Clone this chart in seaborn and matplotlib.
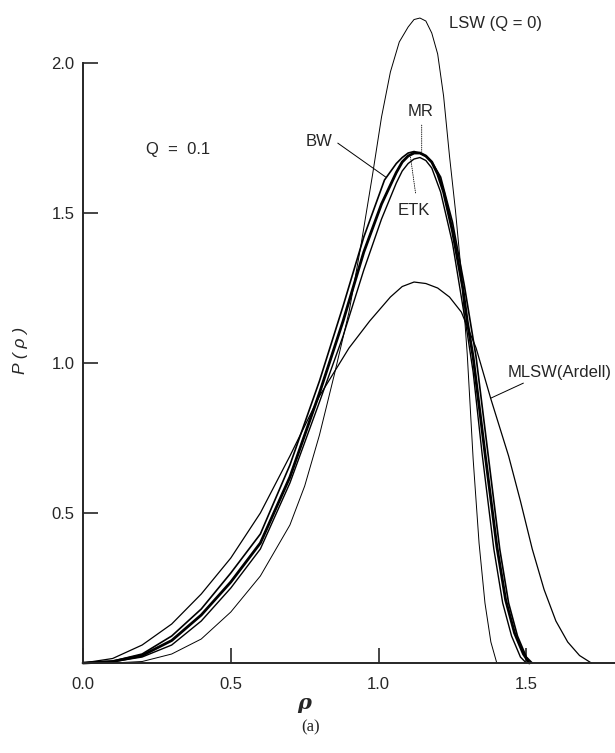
import matplotlib
matplotlib.use("Agg")
import matplotlib.pyplot as plt
import seaborn as sns
import pandas as pd

# ---- data ----
lsw_x = [0.0, 0.1, 0.2, 0.3, 0.4, 0.5, 0.6, 0.7, 0.75, 0.8, 0.85, 0.9, 0.94, 0.98, 1.01, 1.04,
         1.07, 1.10, 1.12, 1.14, 1.16, 1.18, 1.20, 1.22, 1.24, 1.26, 1.28, 1.30, 1.32, 1.34,
         1.36, 1.38, 1.40]
lsw_y = [0.0, 0.0, 0.005, 0.03, 0.08, 0.17, 0.29, 0.46, 0.59, 0.76, 0.96, 1.17, 1.39, 1.63, 1.82, 1.97,
         2.07, 2.12, 2.145, 2.15, 2.14, 2.10, 2.03, 1.89, 1.69, 1.51, 1.30, 1.03, 0.68, 0.40,
         0.20, 0.07, 0.0]

mr_x = [0.0, 0.1, 0.2, 0.3, 0.4, 0.5, 0.6, 0.7, 0.8, 0.88, 0.95, 1.01, 1.06, 1.08, 1.10, 1.12,
        1.14, 1.16, 1.18, 1.20, 1.22, 1.25, 1.285, 1.30, 1.32, 1.36, 1.40, 1.43, 1.46, 1.49, 1.51]
mr_y = [0.0, 0.005, 0.025, 0.075, 0.16, 0.27, 0.40, 0.62, 0.90, 1.14, 1.37, 1.53, 1.635, 1.67, 1.69, 1.70,
        1.70, 1.69, 1.67, 1.63, 1.57, 1.44, 1.25, 1.14, 1.02, 0.70, 0.39, 0.21, 0.10, 0.03, 0.0]

bw_x = [0.0, 0.1, 0.2, 0.3, 0.4, 0.5, 0.6, 0.7, 0.8, 0.88, 0.95, 1.02, 1.06, 1.08, 1.10, 1.12,
        1.14, 1.16, 1.18, 1.21, 1.25, 1.29, 1.31, 1.33, 1.37, 1.41, 1.44, 1.47, 1.50, 1.52]
bw_y = [0.0, 0.006, 0.03, 0.09, 0.18, 0.30, 0.43, 0.66, 0.94, 1.19, 1.42, 1.61, 1.665, 1.685, 1.70, 1.705,
        1.70, 1.69, 1.67, 1.62, 1.47, 1.26, 1.14, 1.02, 0.70, 0.38, 0.20, 0.09, 0.02, 0.0]

etk_x = [0.0, 0.1, 0.2, 0.3, 0.4, 0.5, 0.6, 0.7, 0.8, 0.88, 0.95, 1.01, 1.06, 1.08, 1.10, 1.12,
         1.14, 1.16, 1.18, 1.21, 1.25, 1.28, 1.30, 1.32, 1.35, 1.39, 1.42, 1.45, 1.48, 1.50]
etk_y = [0.0, 0.004, 0.02, 0.06, 0.14, 0.25, 0.38, 0.60, 0.87, 1.09, 1.31, 1.48, 1.60, 1.64, 1.665, 1.68,
         1.685, 1.675, 1.65, 1.57, 1.40, 1.22, 1.10, 0.97, 0.70, 0.38, 0.20, 0.09, 0.02, 0.0]

mlsw_x = [0.0, 0.1, 0.2, 0.3, 0.4, 0.5, 0.6, 0.7, 0.8, 0.9, 0.97, 1.04, 1.08, 1.12, 1.16, 1.20,
          1.24, 1.28, 1.33, 1.38, 1.44, 1.48, 1.52, 1.56, 1.60, 1.64, 1.68, 1.72]
mlsw_y = [0.0, 0.015, 0.06, 0.13, 0.23, 0.35, 0.50, 0.69, 0.89, 1.05, 1.14, 1.22, 1.255, 1.27, 1.265, 1.25,
          1.22, 1.17, 1.05, 0.88, 0.69, 0.54, 0.38, 0.245, 0.14, 0.07, 0.025, 0.0]

x_ticks = [0.0, 0.5, 1.0, 1.5]
x_tick_labels = ["0.0", "0.5", "1.0", "1.5"]
y_ticks = [0.5, 1.0, 1.5, 2.0]
y_tick_labels = ["0.5", "1.0", "1.5", "2.0"]

# ---- plotting ----
sns.set_style("ticks")
plt.rcParams["font.family"] = ["Liberation Sans", "DejaVu Sans"]

fig = plt.figure(figsize=(6.15, 7.53), dpi=100)
ax = fig.add_axes([0.135, 0.1195, 0.865, 0.7968])

curves = [
    (lsw_x, lsw_y, 0.7),
    (mlsw_x, mlsw_y, 0.9),
    (etk_x, etk_y, 1.0),
    (bw_x, bw_y, 1.2),
    (mr_x, mr_y, 2.0),
]
for xs, ys, lw in curves:
    df = pd.DataFrame({"rho": xs, "P": ys})
    sns.lineplot(data=df, x="rho", y="P", ax=ax, color="black", lw=lw,
                 estimator=None, sort=False)
for ln in ax.lines:
    ln.set_clip_on(False)
    ln.set_solid_joinstyle("round")

ax.set_xlim(0, 1.8)
ax.set_ylim(0, 2.0)
ax.spines["top"].set_visible(False)
ax.spines["right"].set_visible(False)
ax.spines["left"].set_linewidth(1.4)
ax.spines["bottom"].set_linewidth(1.4)
ax.spines["left"].set_bounds(0, 2.0)

ax.set_xticks(x_ticks)
ax.set_xticklabels(x_tick_labels)
ax.set_yticks(y_ticks)
ax.set_yticklabels(y_tick_labels)
ax.tick_params(axis="x", direction="in", length=11, width=1.2, pad=10, labelsize=12)
ax.tick_params(axis="y", direction="in", length=11, width=1.2, pad=6, labelsize=12)

ax.set_xlabel("")
ax.set_ylabel("")
fig.text(0.494, 0.066, "ρ", fontsize=15, fontweight="bold", fontstyle="italic",
         family=["DejaVu Serif"], ha="center", va="center")
fig.text(0.033, 0.535, "P ( ρ )", fontsize=12.5, fontstyle="italic", rotation=90,
         ha="center", va="center")
fig.text(0.505, 0.034, "(a)", fontsize=12, family=["Liberation Serif"],
         ha="center", va="center")

ax.text(0.322, 1.713, "Q  =  0.1", fontsize=12, ha="center", va="center")
ax.text(1.237, 2.133, "LSW (Q = 0)", fontsize=12, ha="left", va="center", clip_on=False)
ax.text(1.142, 1.837, "MR", fontsize=12, ha="center", va="center")
ax.text(0.80, 1.737, "BW", fontsize=12, ha="center", va="center")
ax.text(1.119, 1.51, "ETK", fontsize=12, ha="center", va="center")
ax.text(1.437, 0.97, "MLSW(Ardell)", fontsize=12, ha="left", va="center", clip_on=False)

lead = dict(arrowstyle="-", color="black", lw=0.7, shrinkA=0, shrinkB=0)
ax.annotate("", xy=(1.024, 1.62), xytext=(0.862, 1.733), arrowprops=lead)
ax.annotate("", xy=(1.146, 1.703), xytext=(1.146, 1.793),
            arrowprops=dict(arrowstyle="-", color="black", lw=0.6, ls=":", shrinkA=0, shrinkB=0))
ax.annotate("", xy=(1.108, 1.687), xytext=(1.125, 1.567),
            arrowprops=dict(arrowstyle="-", color="black", lw=0.6, ls=":", shrinkA=0, shrinkB=0))
ax.annotate("", xy=(1.38, 0.883), xytext=(1.49, 0.933), arrowprops=lead, annotation_clip=False)

fig.savefig("out.png", dpi=100)
